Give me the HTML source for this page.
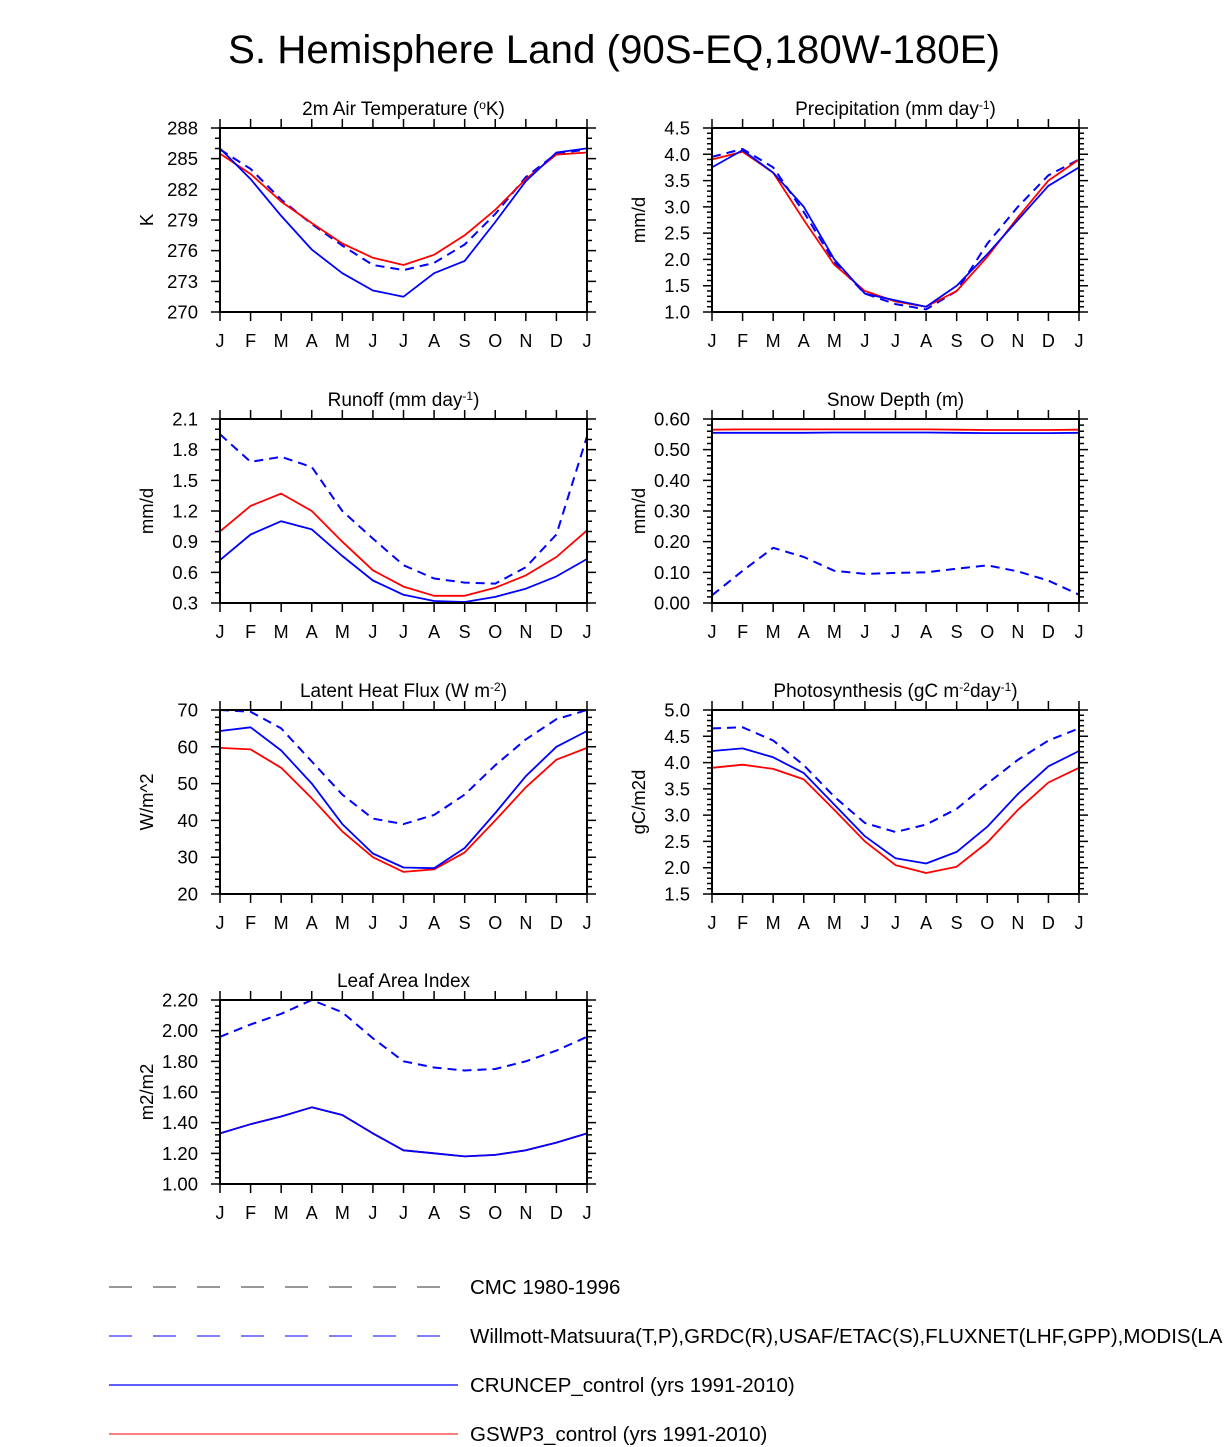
<!DOCTYPE html>
<html><head><meta charset="utf-8"><style>
body{margin:0;background:#fff;}
svg{display:block;font-family:"Liberation Sans",sans-serif;}
</style></head><body>
<svg id="fig" width="1224" height="1447" viewBox="0 0 1224 1447" xmlns="http://www.w3.org/2000/svg">
<text x="614" y="63" font-size="40" text-anchor="middle" textLength="772" lengthAdjust="spacingAndGlyphs">S. Hemisphere Land (90S-EQ,180W-180E)</text>
<g>
<line x1="109" y1="1287" x2="458" y2="1287" stroke="#777" stroke-width="1.5" stroke-dasharray="23 21"/>
<text x="470" y="1294" font-size="20.5">CMC 1980-1996</text>
<line x1="109" y1="1336" x2="458" y2="1336" stroke="#33f" stroke-width="1.2" stroke-dasharray="23 21"/>
<text x="470" y="1343" font-size="20.5">Willmott-Matsuura(T,P),GRDC(R),USAF/ETAC(S),FLUXNET(LHF,GPP),MODIS(LAI)</text>
<line x1="109" y1="1385" x2="458" y2="1385" stroke="#00f" stroke-width="1.2"/>
<text x="470" y="1392" font-size="20.5">CRUNCEP_control (yrs 1991-2010)</text>
<line x1="109" y1="1434" x2="458" y2="1434" stroke="#f33" stroke-width="1.2"/>
<text x="470" y="1441" font-size="20.5">GSWP3_control (yrs 1991-2010)</text>
</g>
</svg>
<script>
const months = ["J","F","M","A","M","J","J","A","S","O","N","D","J"];
// Temperature
const tempRed  = [285.5,283.5,280.8,278.7,276.7,275.3,274.6,275.6,277.5,280.0,283.0,285.4,285.6];
const tempBlue = [286.0,283.0,279.4,276.1,273.8,272.1,271.5,273.8,275.0,278.8,282.8,285.6,286.0];
const tempObs  = [285.9,284.0,281.0,278.6,276.5,274.6,274.1,274.8,276.6,279.6,283.2,285.5,285.9];
const tempTicks = ["270","273","276","279","282","285","288"];
// Precipitation
const precRed  = [3.9,4.05,3.65,2.75,1.9,1.4,1.2,1.1,1.4,2.05,2.8,3.5,3.9];
const precBlue = [3.75,4.08,3.65,3.0,2.0,1.35,1.22,1.1,1.5,2.1,2.75,3.4,3.75];
const precObs  = [3.95,4.1,3.75,2.9,1.95,1.35,1.15,1.05,1.4,2.3,3.0,3.6,3.9];
const precTicks = ["1.0","1.5","2.0","2.5","3.0","3.5","4.0","4.5"];
// Runoff
const runRed  = [1.0,1.25,1.37,1.2,0.9,0.62,0.46,0.37,0.37,0.45,0.57,0.75,1.01];
const runBlue = [0.72,0.97,1.1,1.02,0.76,0.52,0.38,0.32,0.31,0.36,0.44,0.56,0.73];
const runObs  = [1.95,1.68,1.73,1.63,1.2,0.93,0.67,0.54,0.5,0.49,0.65,0.97,1.93];
const runTicks = ["0.3","0.6","0.9","1.2","1.5","1.8","2.1"];
// Snow depth
const snowRed  = [0.565,0.566,0.566,0.566,0.566,0.566,0.566,0.566,0.565,0.564,0.564,0.564,0.565];
const snowBlue = [0.555,0.555,0.555,0.555,0.556,0.556,0.556,0.556,0.555,0.554,0.554,0.554,0.555];
const snowObs  = [0.025,0.105,0.18,0.15,0.105,0.095,0.098,0.1,0.112,0.123,0.103,0.073,0.027];
const snowCmc  = [0,0,0,0,0,0,0,0,0,0,0,0,0];
const snowTicks = ["0.00","0.10","0.20","0.30","0.40","0.50","0.60"];
// Latent heat
const lhfRed  = [59.7,59.3,54.3,46,37,30,26,26.7,31.3,40,49,56.5,59.7];
const lhfBlue = [64.3,65.3,59,50,39,31,27.2,27,32.5,42,52,60,64.3];
const lhfObs  = [70,69.5,65,56,47,40.5,39,41.5,47,55,62,67.5,70];
const lhfTicks = ["20","30","40","50","60","70"];
// GPP
const gppRed  = [3.9,3.96,3.88,3.68,3.1,2.5,2.05,1.9,2.02,2.48,3.1,3.62,3.9];
const gppBlue = [4.22,4.27,4.1,3.8,3.2,2.6,2.18,2.08,2.3,2.78,3.4,3.93,4.22];
const gppObs  = [4.65,4.67,4.42,3.95,3.35,2.85,2.68,2.82,3.12,3.6,4.05,4.42,4.65];
const gppTicks = ["1.5","2.0","2.5","3.0","3.5","4.0","4.5","5.0"];
// LAI
const laiRed  = [1.33,1.39,1.44,1.5,1.45,1.33,1.22,1.2,1.18,1.19,1.22,1.27,1.33];
const laiBlue = [1.33,1.39,1.44,1.5,1.45,1.33,1.22,1.2,1.18,1.19,1.22,1.27,1.33];
const laiObs  = [1.96,2.04,2.11,2.2,2.12,1.95,1.8,1.76,1.74,1.75,1.8,1.87,1.96];
const laiTicks = ["1.00","1.20","1.40","1.60","1.80","2.00","2.20"];

const NS="http://www.w3.org/2000/svg";
const fig=document.getElementById('fig');
function mk(tag,attrs,parent){const e=document.createElementNS(NS,tag);for(const k in attrs)e.setAttribute(k,attrs[k]);parent.appendChild(e);return e;}

const panels=[
 {key:"temp",x:220,y:128,title:'2m Air Temperature (<tspan font-size="12" dy="-6">o</tspan><tspan dy="6">K)</tspan>',ylab:"K",ticks:tempTicks,minor:1,series:[["obs",tempObs],["red",tempRed],["blue",tempBlue]]},
 {key:"precip",x:712,y:128,title:'Precipitation (mm day<tspan font-size="12" dy="-6">-1</tspan><tspan dy="6">)</tspan>',ylab:"mm/d",ticks:precTicks,minor:0.1,series:[["obs",precObs],["red",precRed],["blue",precBlue]]},
 {key:"runoff",x:220,y:419,title:'Runoff (mm day<tspan font-size="12" dy="-6">-1</tspan><tspan dy="6">)</tspan>',ylab:"mm/d",ticks:runTicks,minor:0.1,series:[["obs",runObs],["red",runRed],["blue",runBlue]]},
 {key:"snow",x:712,y:419,title:'Snow Depth (m)',ylab:"mm/d",ticks:snowTicks,minor:0.02,series:[["cmc",snowCmc],["obs",snowObs],["red",snowRed],["blue",snowBlue]]},
 {key:"lhf",x:220,y:710,title:'Latent Heat Flux (W m<tspan font-size="12" dy="-6">-2</tspan><tspan dy="6">)</tspan>',ylab:"W/m^2",ticks:lhfTicks,minor:2,series:[["obs",lhfObs],["red",lhfRed],["blue",lhfBlue]]},
 {key:"gpp",x:712,y:710,title:'Photosynthesis (gC m<tspan font-size="12" dy="-6">-2</tspan><tspan dy="6">day</tspan><tspan font-size="12" dy="-6">-1</tspan><tspan dy="6">)</tspan>',ylab:"gC/m2d",ticks:gppTicks,minor:0.1,series:[["obs",gppObs],["red",gppRed],["blue",gppBlue]]},
 {key:"lai",x:220,y:1000,title:'Leaf Area Index',ylab:"m2/m2",ticks:laiTicks,minor:0.04,series:[["obs",laiObs],["red",laiRed],["blue",laiBlue]]}
];
const W=367,H=184;
const styles={obs:{stroke:"#00f","stroke-dasharray":"9 6","stroke-width":"2"},red:{stroke:"#f00","stroke-width":"1.8"},blue:{stroke:"#00f","stroke-width":"1.8"},cmc:{stroke:"#555","stroke-dasharray":"9 6","stroke-width":"1.8"}};

panels.forEach(p=>{
 const g=mk('g',{},fig);
 
 
 const y0=parseFloat(p.ticks[0]),y1=parseFloat(p.ticks[p.ticks.length-1]);
 const sx=i=>p.x+i*W/12;
 const sy=v=>p.y+H-(v-y0)/(y1-y0)*H;
 const t=mk('text',{x:p.x+W/2,y:p.y-13,"font-size":"19","text-anchor":"middle"},g);
 t.innerHTML=p.title;
 
 
 const yl=mk('text',{x:0,y:0,"font-size":"18.5","text-anchor":"middle",transform:`translate(${p.x-67},${p.y+H/2}) rotate(-90)`},g);
 yl.textContent=p.ylab;
 
 
 const nMinor=Math.round((y1-y0)/p.minor);
 let tk='';
 for(let k=0;k<=nMinor;k++){const yy=p.y+H-k*H/nMinor;tk+=`M${p.x-5},${yy}H${p.x}M${p.x+W},${yy}H${p.x+W+5}`;}
 p.ticks.forEach(s=>{const yy=sy(parseFloat(s));tk+=`M${p.x-9},${yy}H${p.x}M${p.x+W},${yy}H${p.x+W+9}`;});
 months.forEach((m,i)=>{const xx=sx(i);tk+=`M${xx},${p.y-9}V${p.y}M${xx},${p.y+H}V${p.y+H+9}`;});
 const tp=mk('path',{d:tk,stroke:"#000","stroke-width":"1.5",fill:"none"},g);
 
 
 p.ticks.forEach(s=>{
  const e=mk('text',{x:p.x-22,y:sy(parseFloat(s))+6.5,"font-size":"18.5","text-anchor":"end"},g);
  e.textContent=s;
  
  
 });
 months.forEach((m,i)=>{
  const e=mk('text',{x:sx(i),y:p.y+H+35,"font-size":"18","text-anchor":"middle"},g);
  e.textContent=m;
  
  
 });
 p.series.forEach(([kind,arr])=>{
  const d=arr.map((v,i)=>(i?'L':'M')+sx(i).toFixed(1)+','+sy(v).toFixed(1)).join('');
  const a=Object.assign({d:d,fill:"none","stroke-linejoin":"round"},styles[kind]);
  const e=mk('path',a,g);
  
  
 });
 const fr=mk('rect',{x:p.x,y:p.y,width:W,height:H,fill:"none",stroke:"#000","stroke-width":"2"},g);
 
 
});
</script>
</body></html>
